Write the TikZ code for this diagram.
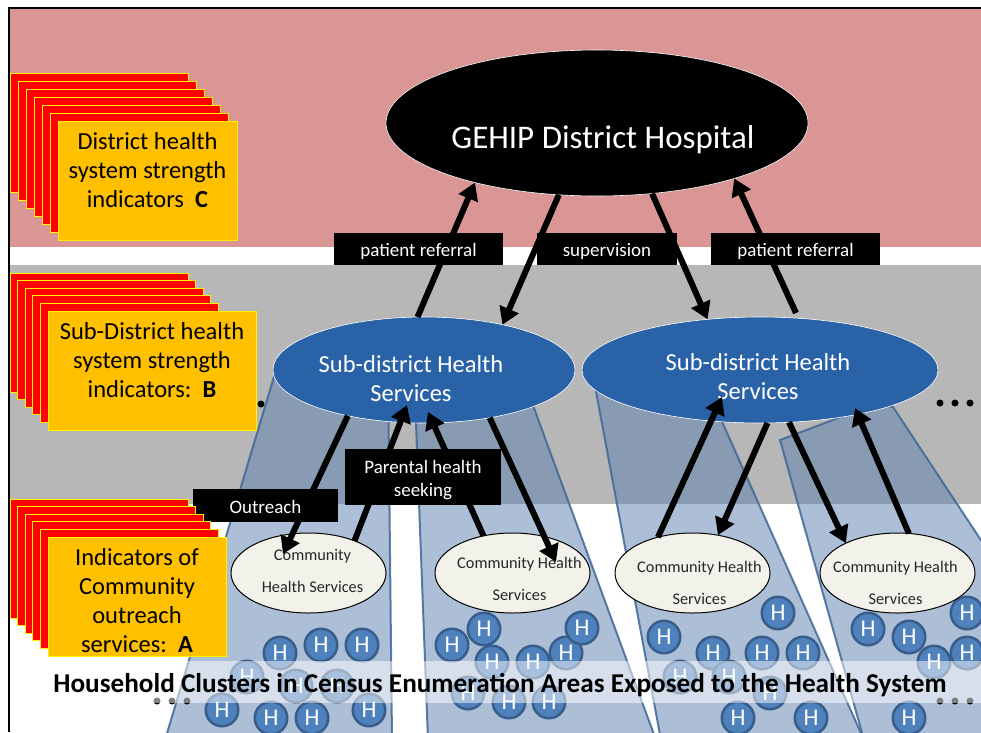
\documentclass[tikz,border=0pt]{standalone}
\usepackage{fontspec}
\setmainfont{Carlito}
\usetikzlibrary{calc,positioning,shapes.geometric,arrows.meta}
\definecolor{bandred}{HTML}{D99694}
\definecolor{bandgray}{HTML}{B7B7B7}
\definecolor{areablue}{HTML}{5A80B0}
\definecolor{arealine}{HTML}{3F6797}
\definecolor{subblue}{HTML}{2A62A8}
\definecolor{commcream}{HTML}{F3F2EA}
\definecolor{househ}{HTML}{4F81BD}
\definecolor{househline}{HTML}{385D8A}
\definecolor{boxorange}{HTML}{FFC000}
\tikzset{
  area/.style={fill=areablue,fill opacity=0.5,draw=arealine,draw opacity=0.85,line width=2pt},
  house/.style={circle,fill=househ,draw=househline,line width=2.5pt,minimum size=32.5pt,inner sep=0pt,outer sep=0pt,text=white,font=\fontsize{24}{26}\selectfont},
  comm/.style={ellipse,fill=commcream,draw=black,line width=1pt,minimum width=155pt,minimum height=80pt,inner sep=0pt,outer sep=0pt},
  commtext/.style={align=center,font=\fontsize{16.3}{31.5}\selectfont,text=black!85},
  subd/.style={ellipse,fill=subblue,draw=white,line width=0.6pt,minimum height=106pt,inner sep=0pt,outer sep=0pt},
  subdtext/.style={align=center,text=white,font=\fontsize{24.5}{29}\selectfont},
  blacklabel/.style={fill=black,text=white,align=center,inner sep=0pt,outer sep=0pt,font=\fontsize{19}{23}\selectfont},
  redcard/.style={draw=yellow,fill=red,line width=0.8pt,anchor=north west,minimum width=178pt,minimum height=119pt,inner sep=0pt,outer sep=0pt},
  orangecard/.style={draw=yellow,fill=boxorange,line width=0.8pt,anchor=north west,minimum height=119pt,inner sep=0pt,outer sep=0pt},
  cardtext/.style={align=center,text=black,font=\fontsize{24.5}{29}\selectfont},
  link/.style={-{Triangle[length=17pt,width=20pt]},black,line width=6pt},
  dotty/.style={circle,fill=black,minimum size=7pt,inner sep=0pt,outer sep=0pt}
}
\begin{document}
\begin{tikzpicture}[x=1pt,y=-1pt]
	\useasboundingbox (0,0) rectangle (981,732);
	\clip (0,0) rectangle (981,732);
	% bands
	\fill[bandred] (10,9) rectangle (981,247);
	\fill[bandgray] (10,265) rectangle (981,504);
	\draw[black,line width=2.5pt] (9,732) -- (9,8) -- (981,8);
	% catchment areas
	\draw[area] (276,370) -- (388,370) -- (392,740) -- (165,740) -- cycle;
	\draw[area] (414,370) -- (520,370) -- (656,740) -- (428,740) -- cycle;
	\draw[area] (592,370) -- (699,370) -- (864,740) -- (661,740) -- cycle;
	\draw[area] (780,440) -- (875,404) -- (893,407) -- (1000,569) -- (1000,740) -- (864,740) -- cycle;
	% dots
	\node[dotty] (dotA) at (261,404) {};
	\foreach \dx in {940,955,970}
		\node[dotty] (dotup\dx) at (\dx,403) {};
	\foreach \dx in {157,172,187,940,955,970}
		\node[dotty] (dotlow\dx) at (\dx,701) {};
	% households
	\foreach \hx/\hy [count=\hi] in {280/653,321/645,362/645,247/677,296/686,337/686,222/710,271/718,312/718,369/710,
		452/645,484/629,492/662,533/662,566/653,582/628,468/693,509/702,549/702,
		778/613,664/637,713/653,762/653,803/653,680/677,729/677,770/693,738/718,811/718,
		868/629,909/637,934/662,967/613,967/653,909/718}
		\node[house] (h\hi) at (\hx,\hy) {H};
	% community services
	\node[comm] (commA) at (308.5,573) {};
	\node[comm] (commB) at (512.5,573) {};
	\node[comm] (commC) at (692.5,573) {};
	\node[comm] (commD) at (897.5,573) {};
	\node[commtext] (commAtxt) at ($ (commA) + (4,-2) $) {Community\\Health Services};
	\node[commtext] (commBtxt) at ($ (commB) + (7,6) $) {Community Health\\Services};
	\node[commtext] (commCtxt) at ($ (commC) + (7,10) $) {Community Health\\Services};
	\node[commtext] (commDtxt) at ($ (commD) + (-2,10) $) {Community Health\\Services};
	% sub-districts and hospital
	\node[subd,minimum width=302pt] (subA) at (424,370) {};
	\node[subd,minimum width=356pt] (subB) at (760,370) {};
	\node[subdtext] (subAtxt) at ($ (subA) + (-13,8.5) $) {Sub-district Health\\Services};
	\node[subdtext] (subBtxt) at ($ (subB) + (-2,6.5) $) {Sub-district Health\\Services};
	\node[ellipse,fill=black,draw=white,line width=0.6pt,minimum width=422pt,minimum height=146pt,inner sep=0pt,outer sep=0pt] (hospital) at (597,123) {};
	\node[text=white,font=\fontsize{33}{36}\selectfont] (hospitaltxt) at ($ (hospital) + (6,17) $) {GEHIP District Hospital};
	% banner
	\fill[white,opacity=0.5] (45,661) rectangle (981,703);
	\node[font=\bfseries\fontsize{27.2}{30}\selectfont] (bannertxt) at (500,685) {Household Clusters in Census Enumeration Areas Exposed to the Health System};
	% links
	\draw[link] (subA.97) -- (hospital.206.6);
	\draw[link] (hospital.242) -- (subA.30);
	\draw[link] (hospital.308) -- (subB.136);
	\draw[link] ($ (subB) + (36,-57) $) -- (hospital.338.6);
	\draw[link] (subA.211.7) -- ($ (commA) + (-25.5,-19) $);
	\draw[link] (commA.35) -- ($ (subA) + (-17,35) $);
	\draw[link] (commB.128) -- ($ (subA) + (4,42) $);
	\draw[link] (subA.324) -- ($ (commB) + (43.5,-11) $);
	\draw[link] (commC.134.6) -- ($ (subB) + (-38,27) $);
	\draw[link] (subB.278.4) -- (commC.56);
	\draw[link] (subB.299.5) -- (commD.150);
	\draw[link] (commD.74) -- ($ (subB) + (95,38) $);
	% labels
	\node[blacklabel,minimum width=169pt,minimum height=32pt] (referA) at (418.5,249) {\raisebox{-2pt}[\height][\depth]{patient referral}};
	\node[blacklabel,minimum width=140pt,minimum height=32pt] (superv) at (607,249) {\raisebox{-2pt}[\height][\depth]{supervision}};
	\node[blacklabel,minimum width=169pt,minimum height=32pt] (referB) at (795.5,249) {\raisebox{-2pt}[\height][\depth]{patient referral}};
	\node[blacklabel,minimum width=145pt,minimum height=33pt] (outreach) at (265.5,505.5) {\raisebox{-1pt}[\height][\depth]{Outreach}};
	\node[blacklabel,minimum width=156pt,minimum height=56pt] (parental) at (423,477) {\raisebox{-3pt}[\height][\depth]{\begin{tabular}{@{}c@{}}Parental health\\seeking\end{tabular}}};
	% indicator stacks
	\foreach \st in {0,...,5}
		\node[redcard] (cardC\st) at ({10+8*\st},{73+8*\st}) {};
	\node[orangecard,minimum width=179pt] (boxC) at (58,121) {};
	\node[cardtext] (boxCtxt) at ($ (boxC.center) + (0,-10) $) {District health\\system strength\\indicators~~\textbf{C}};
	\foreach \st in {0,...,4}
		\node[redcard] (cardB\st) at ({10+7.6*\st},{273+7.6*\st}) {};
	\node[orangecard,minimum width=208pt] (boxB) at (48,311) {};
	\node[cardtext] (boxBtxt) at ($ (boxB.center) + (0,-10) $) {Sub-District health\\system strength\\indicators:~~\textbf{B}};
	\foreach \st in {0,...,4}
		\node[redcard] (cardA\st) at ({10+7.6*\st},{499+7.6*\st}) {};
	\node[orangecard,minimum width=178pt] (boxA) at (48,537) {};
	\node[cardtext] (boxAtxt) at ($ (boxA.center) + (0,4) $) {Indicators of\\Community\\outreach\\services:~~\textbf{A}};
\end{tikzpicture}
\end{document}
